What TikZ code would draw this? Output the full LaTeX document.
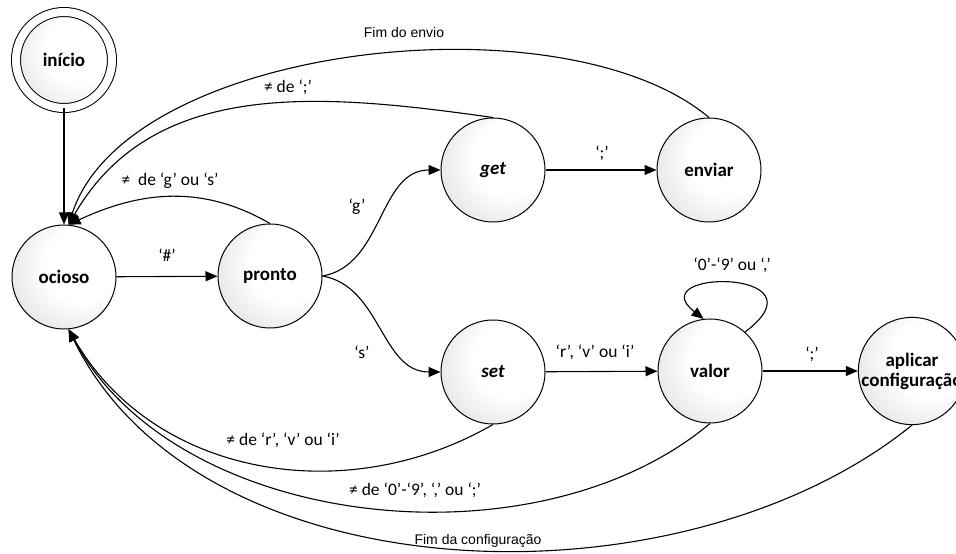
\documentclass[tikz,border=0pt]{standalone}
\usepackage{fontspec}
\setmainfont{Carlito}
\newfontfamily\arialfont{Liberation Sans}
\usetikzlibrary{arrows.meta}
\colorlet{ballgray}{black!28}
\pgfdeclareradialshading{stateball}{\pgfpoint{12bp}{8bp}}{color(0bp)=(white); color(18bp)=(white); color(62bp)=(ballgray)}

\begin{document}
\begin{tikzpicture}[
 x=1pt,y=1pt,
 line width=1.1pt,
 every node/.style={font=\fontsize{17.5}{19}\selectfont},
 state/.style={circle,draw,line width=1pt,minimum size=104pt,inner sep=0pt,
  shade,shading=stateball,align=center,font=\fontsize{19}{20}\selectfont\bfseries},
 trans/.style={-{Triangle[length=12pt,width=10pt]}},
 lbl/.style={inner sep=1pt},
 fimlbl/.style={inner sep=1pt,font=\fontsize{14}{16}\selectfont\arialfont}
]
 \useasboundingbox (0,0) rectangle (956,554);

 \node[state,double,double distance=8pt,minimum size=96pt] (inicio) at (64,494) {início};
 \node[state] (ocioso) at (64,277) {ocioso};
 \node[state] (pronto) at (270,278) {pronto};
 \node[state] (get) at (493,384) {\itshape get};
 \node[state] (enviar) at (709,384) {enviar};
 \node[state] (set) at (493,182) {\itshape set};
 \node[state] (valor) at (710,183) {valor};
 \node[state] (aplicar) at (912,183) {aplicar\\configuração};

 \draw[trans] (inicio) -- (ocioso);
 \draw[trans] (ocioso) -- (pronto);
 \draw[trans] (get) -- (enviar);
 \draw[trans] (set) -- (valor);
 \draw[trans] (valor) -- (aplicar);
 \draw[trans] (pronto.east) to[out=10,in=180] (get.west);
 \draw[trans] (pronto.east) to[out=-10,in=180] (set.west);
 \draw[trans] (valor.48) .. controls +(37:106) and +(142:81) .. (valor.97);

 % returns to ocioso, from above
 \draw[trans] (pronto.north) to[out=150,in=25] (ocioso.85);
 \draw[trans] (get.north) to[out=172,in=60] (ocioso.85);
 \draw[trans] (enviar.north) to[out=140,in=72,looseness=0.75] (ocioso.85);

 % returns to ocioso, from below
 \draw[trans] (set.south) to[out=210,in=-60] (ocioso.-85);
 \draw[trans] (valor.south) to[out=220,in=-62,looseness=0.9] (ocioso.-85);
 \draw[trans] (aplicar.south) to[out=219,in=-64,looseness=0.9] (ocioso.-85);

 \node[lbl] (lhash) at (167,299) {‘\#’};
 \node[lbl] (lg) at (357,347) {‘g’};
 \node[lbl] (ls) at (362,202) {‘s’};
 \node[lbl] (lponto) at (602,401) {‘;’};
 \node[lbl] (lrvi) at (595,202) {‘r’, ‘v’ ou ‘i’};
 \node[lbl] (lfim) at (812,200) {‘;’};
 \node[lbl] (ldigito) at (732,289) {‘0’-‘9’ ou ‘,’};
 \node[lbl] (lnaogs) at (170,373) {≠~~de ‘g’ ou ‘s’};
 \node[lbl] (lnaoponto) at (288,467) {≠ de ‘;’};
 \node[lbl] (lnaorvi) at (283,114) {≠ de ‘r’, ‘v’ ou ‘i’};
 \node[lbl] (lnaodigito) at (415,64) {≠ de ‘0’-‘9’, ‘,’ ou ‘;’};
 \node[fimlbl] (lfimenvio) at (404,521) {Fim do envio};
 \node[fimlbl] (lfimconfig) at (478,13) {Fim da configuração};
\end{tikzpicture}
\end{document}
